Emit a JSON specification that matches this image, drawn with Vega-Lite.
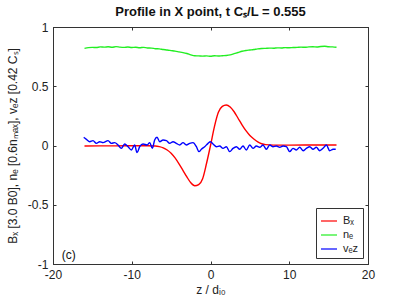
{
  "$schema": "https://vega.github.io/schema/vega-lite/v6.json",
  "width": 315,
  "height": 237,
  "autosize": "none",
  "padding": {"left": 53, "top": 27, "right": 39, "bottom": 41},
  "background": "white",
  "config": {
    "font": "Liberation Sans",
    "view": {"stroke": "#333333", "strokeWidth": 1},
    "axis": {
      "grid": false,
      "domainColor": "#333333",
      "tickColor": "#333333",
      "tickSize": -3,
      "tickWidth": 1,
      "labelFlush": false,
      "labelOverlap": false,
      "labelFont": "Liberation Sans",
      "labelFontSize": 12,
      "labelColor": "#222222",
      "titleFont": "Liberation Sans",
      "titleFontSize": 12,
      "titleFontWeight": "normal",
      "titleColor": "#222222"
    }
  },
  "title": {
    "text": "Profile in X point, t Cₛ/L = 0.555",
    "font": "Liberation Sans",
    "fontSize": 13,
    "fontWeight": "bold",
    "color": "#111111",
    "anchor": "middle",
    "offset": 2
  },
  "datasets": {
    "profiles": [
      {"z": -16, "v": -0.004, "s": "Bₓ"},
      {"z": -12, "v": -0.003, "s": "Bₓ"},
      {"z": -8, "v": -0.002, "s": "Bₓ"},
      {"z": -7, "v": -0.004, "s": "Bₓ"},
      {"z": -6.5, "v": -0.01, "s": "Bₓ"},
      {"z": -6, "v": -0.02, "s": "Bₓ"},
      {"z": -5.5, "v": -0.038, "s": "Bₓ"},
      {"z": -5, "v": -0.065, "s": "Bₓ"},
      {"z": -4.5, "v": -0.105, "s": "Bₓ"},
      {"z": -4, "v": -0.155, "s": "Bₓ"},
      {"z": -3.5, "v": -0.21, "s": "Bₓ"},
      {"z": -3, "v": -0.265, "s": "Bₓ"},
      {"z": -2.5, "v": -0.315, "s": "Bₓ"},
      {"z": -2, "v": -0.34, "s": "Bₓ"},
      {"z": -1.5, "v": -0.33, "s": "Bₓ"},
      {"z": -1, "v": -0.28, "s": "Bₓ"},
      {"z": -0.5, "v": -0.15, "s": "Bₓ"},
      {"z": 0, "v": 0.0, "s": "Bₓ"},
      {"z": 0.5, "v": 0.16, "s": "Bₓ"},
      {"z": 1, "v": 0.28, "s": "Bₓ"},
      {"z": 1.5, "v": 0.33, "s": "Bₓ"},
      {"z": 2, "v": 0.342, "s": "Bₓ"},
      {"z": 2.5, "v": 0.325, "s": "Bₓ"},
      {"z": 3, "v": 0.285, "s": "Bₓ"},
      {"z": 3.5, "v": 0.23, "s": "Bₓ"},
      {"z": 4, "v": 0.175, "s": "Bₓ"},
      {"z": 4.5, "v": 0.125, "s": "Bₓ"},
      {"z": 5, "v": 0.085, "s": "Bₓ"},
      {"z": 5.5, "v": 0.055, "s": "Bₓ"},
      {"z": 6, "v": 0.03, "s": "Bₓ"},
      {"z": 6.5, "v": 0.015, "s": "Bₓ"},
      {"z": 7, "v": 0.007, "s": "Bₓ"},
      {"z": 8, "v": 0.003, "s": "Bₓ"},
      {"z": 12, "v": 0.004, "s": "Bₓ"},
      {"z": 16, "v": 0.004, "s": "Bₓ"},

      {"z": -16, "v": 0.820, "s": "nₑ"},
      {"z": -15.5, "v": 0.826, "s": "nₑ"},
      {"z": -15, "v": 0.828, "s": "nₑ"},
      {"z": -14.5, "v": 0.827, "s": "nₑ"},
      {"z": -14, "v": 0.832, "s": "nₑ"},
      {"z": -13.5, "v": 0.830, "s": "nₑ"},
      {"z": -13, "v": 0.833, "s": "nₑ"},
      {"z": -12.5, "v": 0.829, "s": "nₑ"},
      {"z": -12, "v": 0.834, "s": "nₑ"},
      {"z": -11.5, "v": 0.830, "s": "nₑ"},
      {"z": -11, "v": 0.828, "s": "nₑ"},
      {"z": -10.5, "v": 0.831, "s": "nₑ"},
      {"z": -10, "v": 0.827, "s": "nₑ"},
      {"z": -9.5, "v": 0.829, "s": "nₑ"},
      {"z": -9, "v": 0.825, "s": "nₑ"},
      {"z": -8.5, "v": 0.828, "s": "nₑ"},
      {"z": -8, "v": 0.823, "s": "nₑ"},
      {"z": -7.5, "v": 0.822, "s": "nₑ"},
      {"z": -7, "v": 0.817, "s": "nₑ"},
      {"z": -6.5, "v": 0.815, "s": "nₑ"},
      {"z": -6, "v": 0.810, "s": "nₑ"},
      {"z": -5.5, "v": 0.806, "s": "nₑ"},
      {"z": -5, "v": 0.801, "s": "nₑ"},
      {"z": -4.5, "v": 0.796, "s": "nₑ"},
      {"z": -4, "v": 0.790, "s": "nₑ"},
      {"z": -3.5, "v": 0.784, "s": "nₑ"},
      {"z": -3, "v": 0.776, "s": "nₑ"},
      {"z": -2.5, "v": 0.765, "s": "nₑ"},
      {"z": -2, "v": 0.757, "s": "nₑ"},
      {"z": -1.5, "v": 0.756, "s": "nₑ"},
      {"z": -1, "v": 0.754, "s": "nₑ"},
      {"z": -0.5, "v": 0.756, "s": "nₑ"},
      {"z": 0, "v": 0.753, "s": "nₑ"},
      {"z": 0.5, "v": 0.757, "s": "nₑ"},
      {"z": 1, "v": 0.755, "s": "nₑ"},
      {"z": 1.5, "v": 0.758, "s": "nₑ"},
      {"z": 2, "v": 0.760, "s": "nₑ"},
      {"z": 2.5, "v": 0.765, "s": "nₑ"},
      {"z": 3, "v": 0.775, "s": "nₑ"},
      {"z": 3.5, "v": 0.785, "s": "nₑ"},
      {"z": 4, "v": 0.795, "s": "nₑ"},
      {"z": 4.5, "v": 0.802, "s": "nₑ"},
      {"z": 5, "v": 0.806, "s": "nₑ"},
      {"z": 5.5, "v": 0.810, "s": "nₑ"},
      {"z": 6, "v": 0.815, "s": "nₑ"},
      {"z": 6.5, "v": 0.818, "s": "nₑ"},
      {"z": 7, "v": 0.820, "s": "nₑ"},
      {"z": 7.5, "v": 0.822, "s": "nₑ"},
      {"z": 8, "v": 0.821, "s": "nₑ"},
      {"z": 8.5, "v": 0.824, "s": "nₑ"},
      {"z": 9, "v": 0.823, "s": "nₑ"},
      {"z": 9.5, "v": 0.826, "s": "nₑ"},
      {"z": 10, "v": 0.825, "s": "nₑ"},
      {"z": 10.5, "v": 0.827, "s": "nₑ"},
      {"z": 11, "v": 0.828, "s": "nₑ"},
      {"z": 11.5, "v": 0.830, "s": "nₑ"},
      {"z": 12, "v": 0.829, "s": "nₑ"},
      {"z": 12.5, "v": 0.832, "s": "nₑ"},
      {"z": 13, "v": 0.833, "s": "nₑ"},
      {"z": 13.5, "v": 0.831, "s": "nₑ"},
      {"z": 14, "v": 0.836, "s": "nₑ"},
      {"z": 14.5, "v": 0.838, "s": "nₑ"},
      {"z": 15, "v": 0.833, "s": "nₑ"},
      {"z": 15.5, "v": 0.832, "s": "nₑ"},
      {"z": 16, "v": 0.829, "s": "nₑ"},

      {"z": -16.10, "v": 0.069, "s": "vₑz"},
      {"z": -15.76, "v": 0.052, "s": "vₑz"},
      {"z": -15.34, "v": 0.032, "s": "vₑz"},
      {"z": -14.92, "v": 0.041, "s": "vₑz"},
      {"z": -14.49, "v": 0.018, "s": "vₑz"},
      {"z": -14.07, "v": 0.032, "s": "vₑz"},
      {"z": -13.65, "v": 0.024, "s": "vₑz"},
      {"z": -13.01, "v": 0.041, "s": "vₑz"},
      {"z": -12.59, "v": 0.018, "s": "vₑz"},
      {"z": -12.17, "v": 0.024, "s": "vₑz"},
      {"z": -11.74, "v": 0.004, "s": "vₑz"},
      {"z": -11.32, "v": -0.024, "s": "vₑz"},
      {"z": -10.90, "v": 0.013, "s": "vₑz"},
      {"z": -10.47, "v": -0.010, "s": "vₑz"},
      {"z": -10.05, "v": -0.038, "s": "vₑz"},
      {"z": -9.63, "v": 0.004, "s": "vₑz"},
      {"z": -9.33, "v": -0.060, "s": "vₑz"},
      {"z": -8.99, "v": -0.010, "s": "vₑz"},
      {"z": -8.57, "v": 0.013, "s": "vₑz"},
      {"z": -8.06, "v": 0.004, "s": "vₑz"},
      {"z": -7.72, "v": 0.024, "s": "vₑz"},
      {"z": -7.38, "v": -0.024, "s": "vₑz"},
      {"z": -7.09, "v": 0.046, "s": "vₑz"},
      {"z": -6.79, "v": 0.069, "s": "vₑz"},
      {"z": -6.45, "v": 0.032, "s": "vₑz"},
      {"z": -6.03, "v": 0.046, "s": "vₑz"},
      {"z": -5.60, "v": 0.041, "s": "vₑz"},
      {"z": -5.18, "v": 0.018, "s": "vₑz"},
      {"z": -4.76, "v": 0.032, "s": "vₑz"},
      {"z": -4.34, "v": 0.018, "s": "vₑz"},
      {"z": -3.91, "v": 0.004, "s": "vₑz"},
      {"z": -3.49, "v": 0.024, "s": "vₑz"},
      {"z": -3.07, "v": 0.004, "s": "vₑz"},
      {"z": -2.64, "v": 0.018, "s": "vₑz"},
      {"z": -2.22, "v": 0.024, "s": "vₑz"},
      {"z": -1.79, "v": -0.010, "s": "vₑz"},
      {"z": -1.46, "v": -0.052, "s": "vₑz"},
      {"z": -1.16, "v": -0.032, "s": "vₑz"},
      {"z": -0.74, "v": -0.010, "s": "vₑz"},
      {"z": -0.31, "v": 0.018, "s": "vₑz"},
      {"z": -0.02, "v": 0.032, "s": "vₑz"},
      {"z": 0.32, "v": 0.013, "s": "vₑz"},
      {"z": 0.75, "v": -0.010, "s": "vₑz"},
      {"z": 1.17, "v": -0.004, "s": "vₑz"},
      {"z": 1.59, "v": -0.024, "s": "vₑz"},
      {"z": 2.02, "v": -0.010, "s": "vₑz"},
      {"z": 2.44, "v": -0.052, "s": "vₑz"},
      {"z": 2.86, "v": -0.024, "s": "vₑz"},
      {"z": 3.29, "v": -0.010, "s": "vₑz"},
      {"z": 3.71, "v": -0.032, "s": "vₑz"},
      {"z": 4.13, "v": -0.004, "s": "vₑz"},
      {"z": 4.55, "v": -0.038, "s": "vₑz"},
      {"z": 4.98, "v": 0.004, "s": "vₑz"},
      {"z": 5.40, "v": -0.024, "s": "vₑz"},
      {"z": 5.82, "v": -0.004, "s": "vₑz"},
      {"z": 6.25, "v": -0.015, "s": "vₑz"},
      {"z": 6.67, "v": 0.004, "s": "vₑz"},
      {"z": 7.09, "v": -0.032, "s": "vₑz"},
      {"z": 7.52, "v": 0.004, "s": "vₑz"},
      {"z": 7.94, "v": -0.010, "s": "vₑz"},
      {"z": 8.36, "v": -0.004, "s": "vₑz"},
      {"z": 8.79, "v": -0.015, "s": "vₑz"},
      {"z": 9.21, "v": -0.004, "s": "vₑz"},
      {"z": 9.63, "v": -0.010, "s": "vₑz"},
      {"z": 10.06, "v": -0.052, "s": "vₑz"},
      {"z": 10.48, "v": -0.024, "s": "vₑz"},
      {"z": 10.90, "v": -0.038, "s": "vₑz"},
      {"z": 11.33, "v": -0.015, "s": "vₑz"},
      {"z": 11.75, "v": -0.044, "s": "vₑz"},
      {"z": 12.17, "v": -0.024, "s": "vₑz"},
      {"z": 12.60, "v": -0.010, "s": "vₑz"},
      {"z": 13.02, "v": -0.032, "s": "vₑz"},
      {"z": 13.44, "v": -0.015, "s": "vₑz"},
      {"z": 13.87, "v": -0.044, "s": "vₑz"},
      {"z": 14.29, "v": -0.024, "s": "vₑz"},
      {"z": 14.71, "v": 0.004, "s": "vₑz"},
      {"z": 15.14, "v": -0.044, "s": "vₑz"},
      {"z": 15.56, "v": -0.032, "s": "vₑz"},
      {"z": 15.90, "v": -0.032, "s": "vₑz"}
    ],
    "panel": [
      {"z": -18.0, "v": -0.92, "label": "(c)"}
    ]
  },
  "resolve": {"axis": {"x": "independent", "y": "independent"}},
  "layer": [
    {
      "data": {"name": "profiles"},
      "mark": {"type": "line", "strokeWidth": 1.4, "interpolate": "monotone"},
      "encoding": {
        "x": {
          "field": "z", "type": "quantitative",
          "scale": {"domain": [-20, 20], "nice": false, "zero": false},
          "axis": {"orient": "bottom", "values": [-20, -10, 0, 10, 20], "labelExpr": "datum.value", "labelPadding": 8, "title": "z / dᵢ₀", "titlePadding": 4}
        },
        "y": {
          "field": "v", "type": "quantitative",
          "scale": {"domain": [-1, 1], "nice": false, "zero": false},
          "axis": {"orient": "left", "values": [-1, -0.5, 0, 0.5, 1], "labelExpr": "datum.value", "labelPadding": 8, "title": "Bₓ [3.0 B0], nₑ [0.6nₘₐₓ], vₑz [0.42 Cₛ]", "titlePadding": 8}
        },
        "color": {
          "field": "s", "type": "nominal",
          "scale": {"domain": ["Bₓ", "nₑ", "vₑz"], "range": ["#ff0000", "#22ee22", "#0000ff"]},
          "legend": {
            "title": null,
            "orient": "none",
            "legendX": 263,
            "legendY": 181,
            "symbolType": "stroke",
            "symbolSize": 256,
            "symbolStrokeWidth": 1.2,
            "labelFont": "Liberation Sans",
            "labelFontSize": 11,
            "labelColor": "#222222",
            "labelOffset": 5,
            "rowPadding": -2,
            "padding": 4,
            "strokeColor": "#333333",
            "fillColor": "white"
          }
        },
        "detail": {"field": "s"}
      }
    },
    {
      "data": {"name": "profiles"},
      "mark": {"type": "line", "opacity": 0},
      "encoding": {
        "x": {
          "field": "z", "type": "quantitative",
          "scale": {"domain": [-20, 20], "nice": false, "zero": false},
          "axis": {"orient": "top", "values": [-20, -10, 0, 10, 20], "labels": false, "title": null, "domain": true, "ticks": true}
        },
        "y": {
          "field": "v", "type": "quantitative",
          "scale": {"domain": [-1, 1], "nice": false, "zero": false},
          "axis": {"orient": "right", "values": [-1, -0.5, 0, 0.5, 1], "labels": false, "title": null, "domain": true, "ticks": true}
        }
      }
    },
    {
      "data": {"name": "panel"},
      "mark": {"type": "text", "font": "Liberation Sans", "fontSize": 12, "color": "#111111", "align": "center", "baseline": "middle"},
      "encoding": {
        "x": {"field": "z", "type": "quantitative", "axis": null},
        "y": {"field": "v", "type": "quantitative", "axis": null},
        "text": {"field": "label"}
      }
    }
  ]
}
